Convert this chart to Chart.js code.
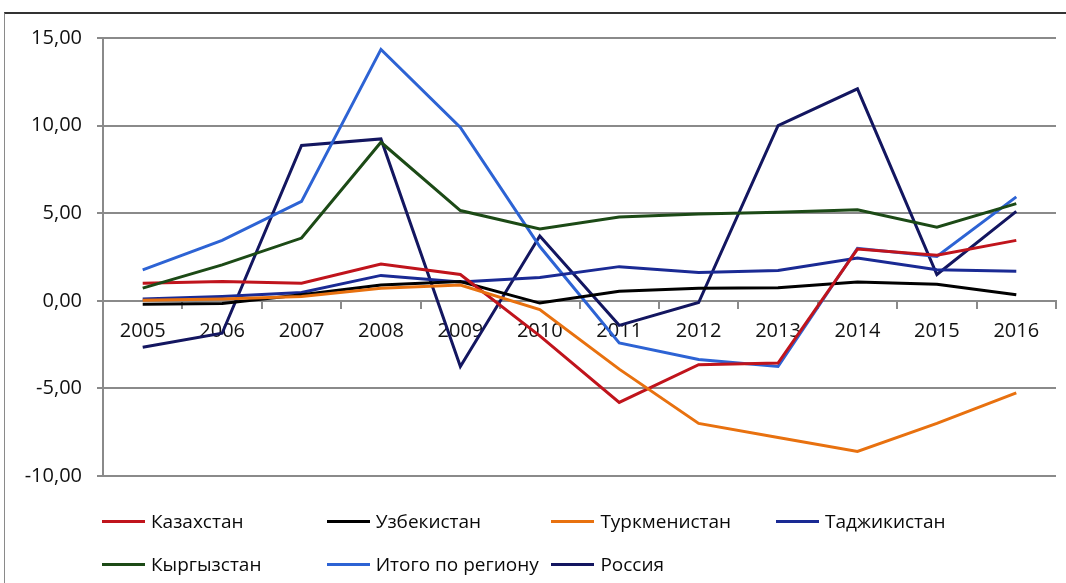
<!DOCTYPE html>
<html>
<head>
<meta charset="utf-8">
<script src="https://cdn.jsdelivr.net/npm/chart.js@4/dist/chart.umd.min.js"></script>
<style>
body{margin:0;background:#fff;width:1066px;height:583px;overflow:hidden;position:relative;font-family:"Open Sans",sans-serif}
#frame{position:absolute;left:4px;top:12px;width:1100px;height:620px;border-top:2px solid #333;border-left:1px solid #8a8a8a}
#wrap{position:absolute;left:0;top:0;width:1066px;height:583px}
#legend{position:absolute;left:102px;top:508px;width:920px}
.item{position:absolute;display:flex;align-items:center;font-size:19px;color:#0a0a0a;white-space:nowrap}
.item span.ln{display:inline-block;width:43px;height:3px;margin-right:6px}
</style>
</head>
<body>
<div id="frame"></div>
<div id="wrap"><canvas id="c" width="1066" height="583"></canvas></div>
<div id="legend"></div>
<script>
let years=["2005","2006","2007","2008","2009","2010","2011","2012","2013","2014","2015","2016"]

let kazakhstan=[1.0,1.1,1.0,2.1,1.5,-2.0,-5.8,-3.65,-3.55,2.95,2.6,3.45]
let uzbekistan=[-0.2,-0.15,0.35,0.9,1.1,-0.13,0.55,0.72,0.75,1.07,0.95,0.35]
let turkmenistan=[0.03,0.1,0.25,0.72,0.9,-0.5,-3.9,-7.0,-7.8,-8.6,-7.0,-5.25]
let tajikistan=[0.1,0.25,0.47,1.45,1.07,1.33,1.95,1.62,1.73,2.44,1.77,1.68]
let kyrgyzstan=[0.72,2.05,3.58,9.05,5.15,4.1,4.78,4.95,5.05,5.2,4.2,5.55]
let regionTotal=[1.77,3.45,5.67,14.35,9.9,3.1,-2.4,-3.35,-3.75,3.0,2.53,5.93]
let russia=[-2.65,-1.85,8.87,9.24,-3.75,3.7,-1.4,-0.1,10.0,12.1,1.5,5.1]

let names=["Казахстан","Узбекистан","Туркменистан","Таджикистан","Кыргызстан","Итого по региону","Россия"]
let colors=["#c0141c","#000000","#e8710f","#1a2a94","#1c4a16","#2d63d4","#131660"]
let series=[kazakhstan,uzbekistan,turkmenistan,tajikistan,kyrgyzstan,regionTotal,russia]

// draw order: put the navy ones on top like the original
let order=[4,2,0,1,3,5,6]

let datasets=order.map(i=>({
    label:names[i],
    data:series[i],
    borderColor:colors[i],
    backgroundColor:colors[i],
    borderWidth:3,
    pointRadius:0,
    tension:0,
    fill:false
}))

let gridColor="#8a8a8a"

new Chart(document.getElementById("c"),{
    type:'line',
    data:{labels:years,datasets:datasets},
    options:{
        responsive:false,
        animation:false,
        layout:{padding:{left:0,top:38,right:10,bottom:107}},
        plugins:{legend:{display:false},tooltip:{enabled:false}},
        scales:{
            x:{
                position:{y:0},
                offset:true,
                grid:{offset:true,drawOnChartArea:false,drawTicks:true,tickLength:7,color:gridColor,lineWidth:2},
                border:{color:gridColor,width:2},
                ticks:{padding:11,color:"#111",font:{family:"Open Sans",size:20},maxRotation:0,autoSkip:false},
                afterFit:s=>{s.height=0}
            },
            y:{
                min:-10,max:15,
                ticks:{stepSize:5,padding:15,color:"#111",font:{family:"Open Sans",size:20},
                    callback:v=>v.toFixed(2).replace(".",",")},
                grid:{color:gridColor,lineWidth:2,tickLength:6},
                border:{color:gridColor,width:2},
                afterFit:s=>{s.width=103}
            }
        }
    }
})

// legend in a fixed grid, 4 columns
let leg=document.getElementById("legend")
names.forEach((n,i)=>{
    let d=document.createElement("div")
    d.className="item"
    d.style.left=(i%4)*224.7+"px"
    d.style.top=Math.floor(i/4)*43+"px"
    d.innerHTML='<span class="ln" style="background:'+colors[i]+'"></span>'+n
    leg.appendChild(d)
})
</script>
</body>
</html>
